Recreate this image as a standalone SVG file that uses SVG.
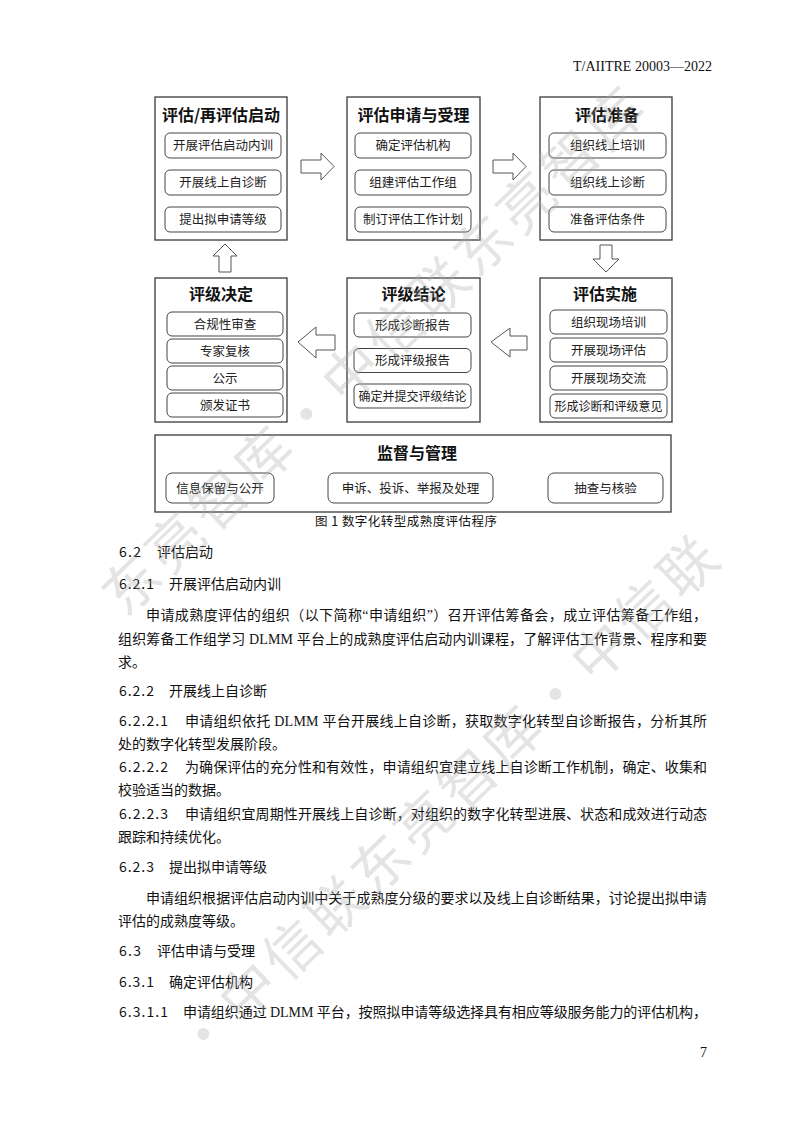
<svg xmlns="http://www.w3.org/2000/svg" width="793" height="1122" viewBox="0 0 793 1122">
<style>
.ob{fill:#fff;stroke:#3a3a3a;stroke-width:1.3}
.ib{fill:#fff;stroke:#444;stroke-width:1}
.ar{fill:#fff;stroke:#555;stroke-width:1}
.tt{font-family:"Noto Sans CJK SC",sans-serif;font-size:16px;font-weight:700;text-anchor:middle;fill:#111}
.it{font-family:"Noto Sans CJK SC",sans-serif;font-size:12.5px;text-anchor:middle;fill:#222}
.cap{font-family:"Noto Sans CJK SC",sans-serif;font-size:12.5px;fill:#111}
.hd{font-family:"Noto Sans CJK SC",sans-serif;font-size:14px;fill:#111}
.bd{font-family:"Liberation Serif","Noto Sans CJK SC",serif;font-size:14px;fill:#111}
.sr{font-family:"Liberation Serif",serif;font-size:14px;fill:#111}
.wm{font-family:"Noto Sans CJK SC",sans-serif;font-size:56px;fill:#aaa;fill-opacity:0.32;text-anchor:middle;dominant-baseline:central;letter-spacing:5px}
</style>
<rect width="793" height="1122" fill="#fff"/>
<text class="sr" x="573" y="71" textLength="139">T/AIITRE 20003—2022</text>

<g id="connectors">
<path class="ar" d="M301,160 H321 V153 L334,166.5 L321,180 V173 H301 Z"/>
<path class="ar" d="M493,160 H513 V153 L526,166.5 L513,180 V173 H493 Z"/>
<path class="ar" d="M600,245 H612 V259 H619 L606,272 L593,259 H600 Z"/>
<path class="ar" d="M491,342 L510,328 V336 H527 V350 H510 V357 Z"/>
<path class="ar" d="M298,342 L316,327 V335 H335 V350 H316 V358 Z"/>
<path class="ar" d="M225,244 L237,256 H231 V272 H219 V256 H213 Z"/>
</g>

<g id="node-start">
<rect class="ob" x="155" y="97" width="132" height="143"/>
<text class="tt" x="221" y="121">评估/再评估启动</text>
<rect class="ib" x="165" y="133" width="116" height="25" rx="5"/>
<text class="it" x="223" y="150">开展评估启动内训</text>
<rect class="ib" x="165" y="170" width="116" height="25" rx="5"/>
<text class="it" x="223" y="187">开展线上自诊断</text>
<rect class="ib" x="165" y="207" width="116" height="25" rx="5"/>
<text class="it" x="223" y="224">提出拟申请等级</text>
</g>

<g id="node-apply">
<rect class="ob" x="347" y="97" width="133" height="143"/>
<text class="tt" x="413.5" y="121">评估申请与受理</text>
<rect class="ib" x="355" y="133" width="116" height="25" rx="5"/>
<text class="it" x="413" y="150">确定评估机构</text>
<rect class="ib" x="355" y="170" width="116" height="25" rx="5"/>
<text class="it" x="413" y="187">组建评估工作组</text>
<rect class="ib" x="355" y="207" width="116" height="25" rx="5"/>
<text class="it" x="413" y="224">制订评估工作计划</text>
</g>

<g id="node-prepare">
<rect class="ob" x="540" y="97" width="132" height="143"/>
<text class="tt" x="607" y="121">评估准备</text>
<rect class="ib" x="549" y="133" width="117" height="25" rx="5"/>
<text class="it" x="607.5" y="150">组织线上培训</text>
<rect class="ib" x="549" y="170" width="117" height="25" rx="5"/>
<text class="it" x="607.5" y="187">组织线上诊断</text>
<rect class="ib" x="549" y="207" width="117" height="25" rx="5"/>
<text class="it" x="607.5" y="224">准备评估条件</text>
</g>

<g id="node-implement">
<rect class="ob" x="540" y="278" width="132" height="144"/>
<text class="tt" x="605" y="300">评估实施</text>
<rect class="ib" x="550" y="310" width="117" height="24" rx="5"/>
<text class="it" x="608.5" y="326.5">组织现场培训</text>
<rect class="ib" x="550" y="338" width="117" height="24" rx="5"/>
<text class="it" x="608.5" y="354.5">开展现场评估</text>
<rect class="ib" x="550" y="366" width="117" height="24" rx="5"/>
<text class="it" x="608.5" y="382.5">开展现场交流</text>
<rect class="ib" x="550" y="394" width="117" height="24" rx="5"/>
<text class="it" x="608.5" y="410.5" textLength="108" lengthAdjust="spacingAndGlyphs">形成诊断和评级意见</text>
</g>

<g id="node-conclusion">
<rect class="ob" x="347" y="278" width="133" height="144"/>
<text class="tt" x="413.5" y="300">评级结论</text>
<rect class="ib" x="354" y="313" width="117" height="24" rx="5"/>
<text class="it" x="412.5" y="329.5">形成诊断报告</text>
<rect class="ib" x="354" y="348.5" width="117" height="24" rx="5"/>
<text class="it" x="412.5" y="365">形成评级报告</text>
<rect class="ib" x="354" y="384" width="117" height="24" rx="5"/>
<text class="it" x="412.5" y="400.5" textLength="108" lengthAdjust="spacingAndGlyphs">确定并提交评级结论</text>
</g>

<g id="node-decision">
<rect class="ob" x="155" y="278" width="132" height="144"/>
<text class="tt" x="221" y="300">评级决定</text>
<rect class="ib" x="167" y="312" width="116" height="24" rx="5"/>
<text class="it" x="225" y="328.5">合规性审查</text>
<rect class="ib" x="167" y="339" width="116" height="24" rx="5"/>
<text class="it" x="225" y="355.5">专家复核</text>
<rect class="ib" x="167" y="366" width="116" height="24" rx="5"/>
<text class="it" x="225" y="382.5">公示</text>
<rect class="ib" x="167" y="393" width="116" height="24" rx="5"/>
<text class="it" x="225" y="409.5">颁发证书</text>
</g>

<g id="node-supervision">
<rect class="ob" x="155" y="435" width="516" height="77"/>
<text class="tt" x="417" y="459">监督与管理</text>
<rect class="ib" x="166" y="473" width="108" height="30" rx="6"/>
<text class="it" x="220" y="492.5">信息保留与公开</text>
<rect class="ib" x="328" y="473" width="165" height="30" rx="6"/>
<text class="it" x="410.5" y="492.5">申诉、投诉、举报及处理</text>
<rect class="ib" x="548" y="473" width="115" height="30" rx="6"/>
<text class="it" x="605.5" y="492.5">抽查与核验</text>
</g>

<text class="cap" x="315" y="526" textLength="182">图 1  数字化转型成熟度评估程序</text>

<g id="body">
<text class="hd" x="119" y="557" textLength="22">6.2</text>
<text class="hd" x="157" y="557">评估启动</text>
<text class="hd" x="119" y="589" textLength="35">6.2.1</text>
<text class="hd" x="169" y="589">开展评估启动内训</text>
<text class="bd" x="146" y="620" textLength="561">申请成熟度评估的组织（以下简称“申请组织”）召开评估筹备会，成立评估筹备工作组，</text>
<text class="bd" x="118" y="644" textLength="589">组织筹备工作组学习 DLMM 平台上的成熟度评估启动内训课程，了解评估工作背景、程序和要</text>
<text class="bd" x="118" y="667">求。</text>

<text class="hd" x="119" y="696" textLength="35">6.2.2</text>
<text class="hd" x="169" y="696">开展线上自诊断</text>
<text class="hd" x="119" y="726" textLength="49">6.2.2.1</text>
<text class="bd" x="185" y="726" textLength="522">申请组织依托 DLMM 平台开展线上自诊断，获取数字化转型自诊断报告，分析其所</text>
<text class="bd" x="118" y="749">处的数字化转型发展阶段。</text>
<text class="hd" x="119" y="772" textLength="49">6.2.2.2</text>
<text class="bd" x="185" y="772" textLength="522">为确保评估的充分性和有效性，申请组织宜建立线上自诊断工作机制，确定、收集和</text>
<text class="bd" x="118" y="795">校验适当的数据。</text>
<text class="hd" x="119" y="819" textLength="49">6.2.2.3</text>
<text class="bd" x="185" y="819" textLength="522">申请组织宜周期性开展线上自诊断，对组织的数字化转型进展、状态和成效进行动态</text>
<text class="bd" x="118" y="842">跟踪和持续优化。</text>

<text class="hd" x="119" y="872" textLength="35">6.2.3</text>
<text class="hd" x="169" y="872">提出拟申请等级</text>
<text class="bd" x="146" y="903" textLength="561">申请组织根据评估启动内训中关于成熟度分级的要求以及线上自诊断结果，讨论提出拟申请</text>
<text class="bd" x="118" y="926">评估的成熟度等级。</text>

<text class="hd" x="119" y="956" textLength="22">6.3</text>
<text class="hd" x="157" y="956">评估申请与受理</text>
<text class="hd" x="119" y="987" textLength="35">6.3.1</text>
<text class="hd" x="169" y="987">确定评估机构</text>
<text class="hd" x="119" y="1017" textLength="49">6.3.1.1</text>
<text class="bd" x="183" y="1017" textLength="524">申请组织通过 DLMM 平台，按照拟申请等级选择具有相应等级服务能力的评估机构，</text>
<text class="sr" x="700" y="1057">7</text>
</g>

<g id="watermark">
<text class="wm" transform="translate(196,516.5) rotate(-44)">东亮智库</text>
<text class="wm" transform="translate(306,410) rotate(-44)">·</text>
<text class="wm" transform="translate(394,325.5) rotate(-44)">中信联</text>
<text class="wm" transform="translate(547.5,177) rotate(-44)">东亮智库</text>
<text class="wm" transform="translate(203,1030) rotate(-44)">·</text>
<text class="wm" transform="translate(291,944.5) rotate(-44)">中信联</text>
<text class="wm" transform="translate(445,796) rotate(-44)">东亮智库</text>
<text class="wm" transform="translate(555,690) rotate(-44)">·</text>
<text class="wm" transform="translate(643,604.5) rotate(-44)">中信联</text>
</g>
</svg>
